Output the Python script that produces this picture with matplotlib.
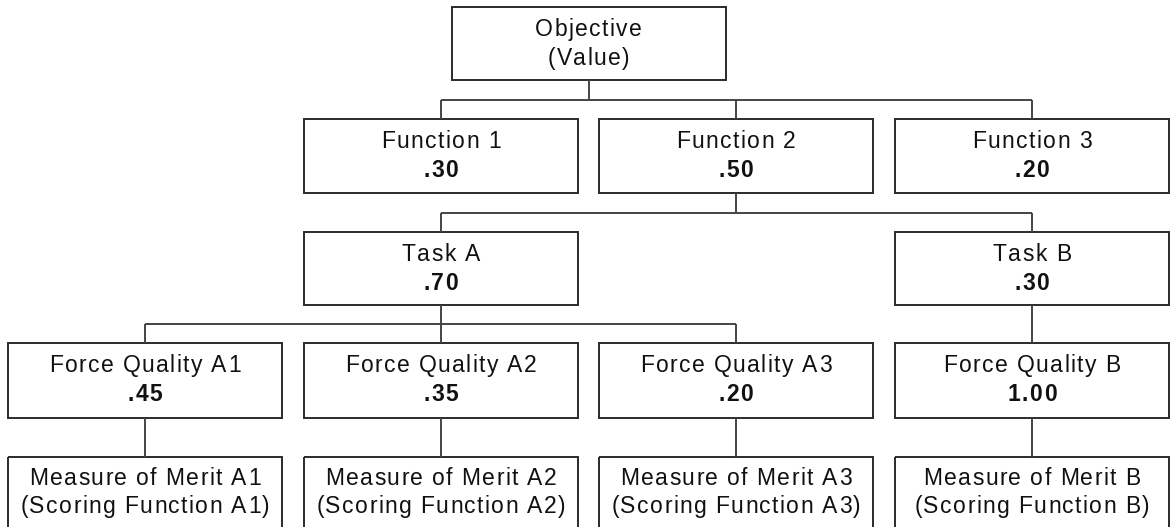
import matplotlib.pyplot as plt
from matplotlib.patches import Rectangle
from matplotlib import font_manager, ft2font

# hierarchy content
objective = ["Objective", "(Value)"]
functions = ["Function 1", "Function 2", "Function 3"]
function_weights = [".30", ".50", ".20"]
tasks = ["Task A", "Task B"]
task_weights = [".70", ".30"]
qualities = ["Force Quality A1", "Force Quality A2", "Force Quality A3", "Force Quality B"]
quality_weights = [".45", ".35", ".20", "1.00"]
measures = ["Measure of Merit A1", "Measure of Merit A2", "Measure of Merit A3", "Measure of Merit B"]
scoring = ["(Scoring Function A1)", "(Scoring Function A2)", "(Scoring Function A3)", "(Scoring Function B)"]

# layout in pixels
col_left = [8, 304, 599, 895]
box_w = 274
rows = {"obj": (7, 80), "func": (119, 193), "task": (232, 305), "fq": (343, 418), "mom": (457, 540)}

EDGE = "#2b2b2b"
LINE = "#444444"
TXT = "#111111"
FONT = "Liberation Sans"
FS = 16.5
SPACING = 1.4  # extra pixels between letters, the original is loosely tracked

fig = plt.figure(figsize=(11.7, 5.27), dpi=100)
ax = fig.add_axes([0, 0, 1, 1])
ax.set_xlim(0, 1170)
ax.set_ylim(527, 0)
ax.axis("off")

_fonts = {}


def advances(s, weight):
    if weight not in _fonts:
        path = font_manager.findfont(font_manager.FontProperties(family=FONT, weight=weight))
        ft = ft2font.FT2Font(path)
        ft.set_size(FS, 100)
        _fonts[weight] = ft
    ft = _fonts[weight]
    return [ft.load_char(ord(c)).linearHoriAdvance / 65536 for c in s]


def spaced_text(cx, y, s, weight="normal"):
    adv = advances(s, weight)
    total = sum(adv) + SPACING * (len(s) - 1)
    x = cx - total / 2
    for ch, a in zip(s, adv):
        if ch != " ":
            ax.text(x, y, ch, ha="left", va="baseline", fontsize=FS,
                    family=FONT, color=TXT, fontweight=weight)
        x += a + SPACING


def box(x0, row, line1, line2, bold2=False, off=(29, 58)):
    y0, y1 = rows[row]
    ax.add_patch(Rectangle((x0, y0), box_w, y1 - y0, fill=False, ec=EDGE, lw=1.4))
    cx = x0 + box_w / 2
    spaced_text(cx, y0 + off[0], line1)
    spaced_text(cx, y0 + off[1], line2, "bold" if bold2 else "normal")
    return cx


def link(x0, y0, x1, y1):
    ax.plot([x0, x1], [y0, y1], color=LINE, lw=1.4, solid_capstyle="butt")


centers = [l + box_w / 2 for l in col_left]

# objective
obj_left = (centers[1] + centers[2]) / 2 - box_w / 2
obj_cx = box(obj_left, "obj", objective[0], objective[1])

# functions
for i, (name, w) in enumerate(zip(functions, function_weights)):
    box(col_left[i + 1], "func", name, w, bold2=True)
mid = (rows["obj"][1] + rows["func"][0]) / 2
link(obj_cx, rows["obj"][1], obj_cx, mid)
link(centers[1], mid, centers[3], mid)
for c in centers[1:]:
    link(c, mid, c, rows["func"][0])

# tasks under Function 2
task_cols = [1, 3]
for col, name, w in zip(task_cols, tasks, task_weights):
    box(col_left[col], "task", name, w, bold2=True)
mid = (rows["func"][1] + rows["task"][0]) / 2
link(centers[2], rows["func"][1], centers[2], mid)
link(centers[1], mid, centers[3], mid)
for col in task_cols:
    link(centers[col], mid, centers[col], rows["task"][0])

# force qualities
for i, (name, w) in enumerate(zip(qualities, quality_weights)):
    box(col_left[i], "fq", name, w, bold2=True)
mid = (rows["task"][1] + rows["fq"][0]) / 2
link(centers[1], rows["task"][1], centers[1], mid)
link(centers[0], mid, centers[2], mid)
for c in centers[:3]:
    link(c, mid, c, rows["fq"][0])
link(centers[3], rows["task"][1], centers[3], rows["fq"][0])

# measures of merit
for i, (m, s) in enumerate(zip(measures, scoring)):
    box(col_left[i], "mom", m, s, off=(28, 56))
    link(centers[i], rows["fq"][1], centers[i], rows["mom"][0])

fig.savefig("out.png", dpi=100)
